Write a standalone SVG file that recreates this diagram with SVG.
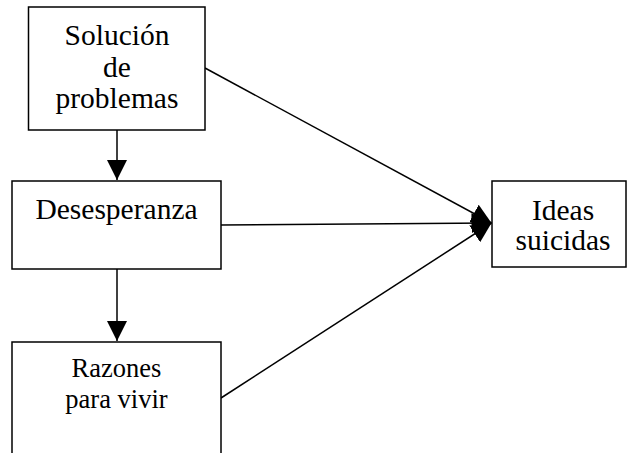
<svg xmlns="http://www.w3.org/2000/svg" width="627" height="453" viewBox="0 0 627 453">
  <style>
    .box { fill: #fff; stroke: #000; stroke-width: 1.5; }
    .lbl { font-family: "Liberation Serif", "Times New Roman", serif; font-size: 29.5px; fill: #000; text-anchor: middle; }
    .sm { font-size: 26.5px; }
    .edge { stroke: #000; stroke-width: 1.5; fill: none; marker-end: url(#head); }
  </style>
  <defs>
    <marker id="head" markerUnits="userSpaceOnUse" markerWidth="20" markerHeight="20" refX="20" refY="10" orient="auto" viewBox="0 0 20 20">
      <path d="M0,0 L20,10 L0,20 z" fill="#000"/>
    </marker>
  </defs>

  <g id="edges">
    <line class="edge" x1="117" y1="130" x2="117" y2="180"/>
    <line class="edge" x1="117" y1="269" x2="117" y2="341"/>
    <line class="edge" x1="205" y1="68" x2="491.5" y2="223"/>
    <line class="edge" x1="221" y1="225" x2="491.5" y2="223"/>
    <line class="edge" x1="221" y1="398" x2="491.5" y2="223"/>
  </g>

  <g id="solucion">
    <rect class="box" x="28.5" y="7" width="176.5" height="123"/>
    <text class="lbl" x="117" y="45">Solución</text>
    <text class="lbl" x="117" y="77">de</text>
    <text class="lbl" x="117" y="108">problemas</text>
  </g>

  <g id="desesperanza">
    <rect class="box" x="12" y="181" width="209" height="88"/>
    <text class="lbl" x="116.5" y="219">Desesperanza</text>
  </g>

  <g id="razones">
    <rect class="box" x="12" y="342" width="209" height="120"/>
    <text class="lbl sm" x="116.5" y="377">Razones</text>
    <text class="lbl sm" x="116.5" y="408">para vivir</text>
  </g>

  <g id="ideas">
    <rect class="box" x="492" y="181" width="134" height="86"/>
    <text class="lbl" x="563" y="220">Ideas</text>
    <text class="lbl" x="563" y="250">suicidas</text>
  </g>
</svg>
